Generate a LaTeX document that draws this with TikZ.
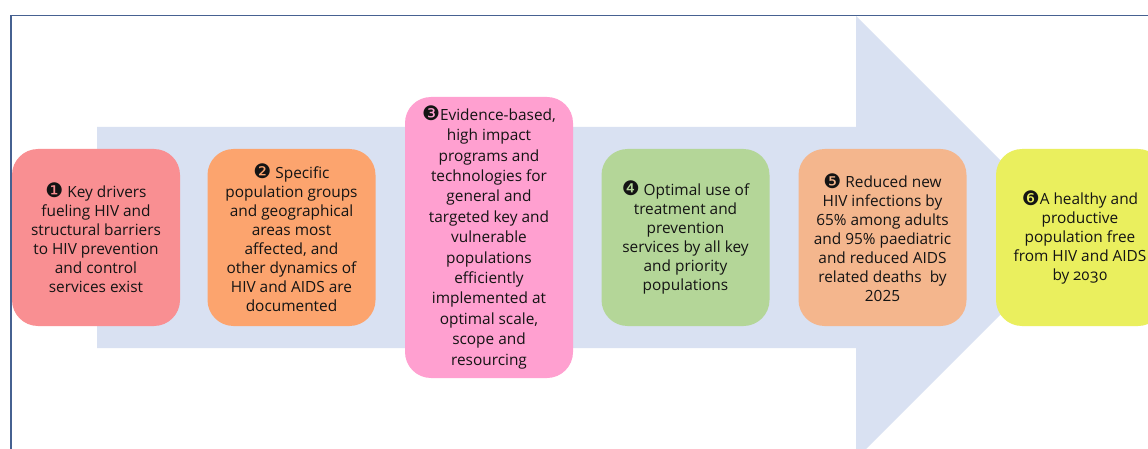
\documentclass[tikz,border=0pt]{standalone}
\usepackage{fontspec}
\setmainfont{Open Sans}
\newfontfamily\dingfont{DejaVu Sans}
\definecolor{framecol}{RGB}{70,97,145}
\definecolor{arrowcol}{RGB}{217,225,242}
\definecolor{cA}{RGB}{249,143,146}
\definecolor{cB}{RGB}{252,164,110}
\definecolor{cC}{RGB}{255,160,208}
\definecolor{cD}{RGB}{180,214,152}
\definecolor{cE}{RGB}{244,182,141}
\definecolor{cF}{RGB}{234,239,94}
\definecolor{txt}{RGB}{20,20,20}
\newcommand\stepnum[1]{{\dingfont\fontsize{20}{20}\selectfont\raisebox{-0.5pt}{#1}}}
\tikzset{
  stagebox/.style={rectangle, rounded corners=26pt, inner sep=0pt,
    minimum width=168pt, minimum height=177pt, align=center, text=txt,
    font=\fontsize{15.4}{19}\selectfont},
  tallbox/.style={stagebox, minimum height=281pt,
    font=\fontsize{15.4}{20.4}\selectfont},
  framestyle/.style={draw=framecol, line width=1.4pt},
}
\begin{document}
\begin{tikzpicture}[x=1pt,y=-1pt]
\useasboundingbox (0,0) rectangle (1148,449);
\clip (0,0) rectangle (1148,449);
\fill[white] (0,0) rectangle (1148,449);
% outer frame (top and left edges)
\draw[framestyle] (11,449) -- (11,15.5) -- (1148,15.5);
% broad block arrow behind the stages
\fill[arrowcol] (97,127) -- (856,127) -- (856,16) -- (1077.5,237.5)
  -- (856,459) -- (856,348) -- (97,348) -- cycle;
% stages
\node[stagebox, fill=cA] (s1) at (96,237.5)
  {\stepnum{❶} Key drivers\\fueling HIV and\\structural barriers\\to HIV prevention\\and control\\services exist};
\node[stagebox, fill=cB] (s2) at (291.5,237.5)
  {\stepnum{❷} Specific\\population groups\\and geographical\\areas most\\affected, and\\other dynamics of\\HIV and AIDS are\\documented};
\node[tallbox, fill=cC] (s3) at (489,237.5)
  {\stepnum{❸}Evidence-based,\\high impact\\programs and\\technologies for\\general and\\targeted key and\\vulnerable\\populations\\efficiently\\implemented at\\optimal scale,\\scope and\\resourcing};
\node[stagebox, fill=cD] (s4) at (685.5,237.5)
  {\stepnum{❹} Optimal use of\\treatment and\\prevention\\services by all key\\and priority\\populations};
\node[stagebox, fill=cE] (s5) at (882.5,237.5)
  {\stepnum{❺} Reduced new\\HIV infections by\\65\% among adults\\and 95\% paediatric\\and reduced AIDS\\related deaths~ by\\2025};
\node[stagebox, fill=cF] (s6) at (1080,237.5)
  {\stepnum{❻}A healthy and\\productive\\population free\\from HIV and AIDS\\by {\addfontfeature{Numbers=OldStyle}2030}};
\end{tikzpicture}
\end{document}
